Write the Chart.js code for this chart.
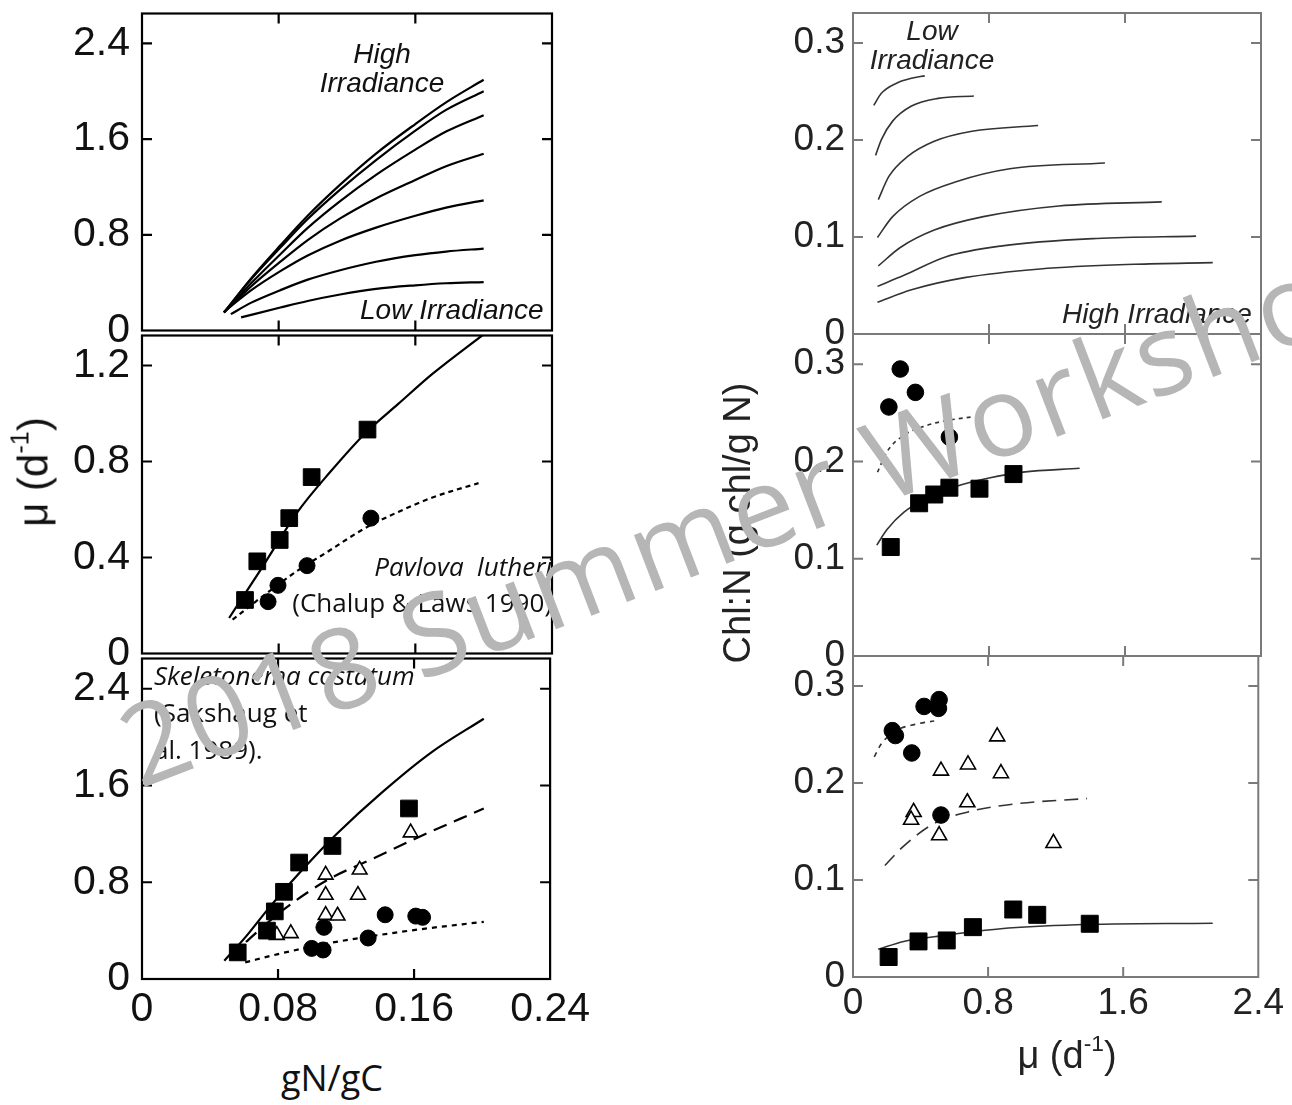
<!DOCTYPE html>
<html>
<head>
<meta charset="utf-8">
<script src="https://cdn.jsdelivr.net/npm/chart.js@4.4.1/dist/chart.umd.min.js"></script>
<style>
  body { margin: 0; background: #fff; }
  #page { position: relative; width: 1292px; height: 1105px; overflow: hidden; background: #fff; }
  canvas { position: absolute; }
  .txt { position: absolute; white-space: nowrap; color: #111; z-index: 5; }
  .arial { font-family: 'Liberation Sans', Arial, sans-serif; }
  .open { font-family: 'Open Sans', 'Noto Sans', sans-serif; }
  .sup { font-size: 0.6em; position: relative; top: -0.75em; }
  #wm { position: absolute; z-index: 10; white-space: nowrap; color: #b6b6b6;
        font: 112px/112px 'Open Sans', 'Noto Sans', sans-serif; letter-spacing: 3px;
        left: 140px; top: 690px; transform-origin: 0 100px; transform: rotate(-21deg); }
</style>
</head>
<body>
<div id="page">
  <canvas id="pIrrGrowth"></canvas>
  <canvas id="pPavGrowth"></canvas>
  <canvas id="pSkelGrowth"></canvas>
  <canvas id="pIrrChl"></canvas>
  <canvas id="pPavChl"></canvas>
  <canvas id="pSkelChl"></canvas>

  <div class="txt arial" style="left:382px; top:39px; transform:translateX(-50%); text-align:center; font:italic 28px/29px 'Liberation Sans', Arial;">High<br>Irradiance</div>
  <div class="txt arial" style="left:360px; top:295px; font:italic 28px/29px 'Liberation Sans', Arial;">Low Irradiance</div>
  <div class="txt arial" style="left:932px; top:16px; transform:translateX(-50%); text-align:center; font:italic 28px/29px 'Liberation Sans', Arial; color:#222;">Low<br>Irradiance</div>
  <div class="txt arial" style="left:1062px; top:299px; font:italic 28px/29px 'Liberation Sans', Arial; color:#222;">High Irradiance</div>

  <div class="txt open" style="right:740px; top:548px; text-align:right; font-size:26px; line-height:36px;"><i>Pavlova&nbsp;&nbsp;lutheri</i><br>(Chalup &amp; Laws 1990)</div>
  <div class="txt open" style="left:154px; top:657px; font-size:26px; line-height:37px;"><i>Skeletonema costatum</i><br>(Sakshaug et<br>al. 1989).</div>

  <div class="txt arial" style="left:36px; top:472px; font-size:42px; line-height:42px; transform:translate(-50%,-50%) rotate(-90deg);">&mu; (d<span class="sup">-1</span>)</div>
  <div class="txt arial" style="left:737px; top:523px; font-size:38px; line-height:38px; color:#222; transform:translate(-50%,-50%) rotate(-90deg);">Chl:N (g chl/g N)</div>
  <div class="txt open" style="left:332px; top:1060px; font-size:36px; line-height:36px; transform:translateX(-50%);">gN/gC</div>
  <div class="txt arial" style="left:1067px; top:1036px; font-size:38px; line-height:38px; color:#222; transform:translateX(-50%);">&mu; (d<span class="sup">-1</span>)</div>

  <div id="wm">2018 Summer Workshop</div>
</div>

<script>
// ── Tick values ────────────────────────────────────────
const gnTicks = [0, 0.08, 0.16, 0.24];
const gnTickLabels = ['0', '0.08', '0.16', '0.24'];
const muTicks = [0, 0.8, 1.6, 2.4];
const muTickLabels = ['0', '0.8', '1.6', '2.4'];
const muTicksPav = [0, 0.4, 0.8, 1.2];
const muTickLabelsPav = ['0', '0.4', '0.8', '1.2'];
const chlTicks = [0, 0.1, 0.2, 0.3];
const chlTickLabels = ['0', '0.1', '0.2', '0.3'];

// ── Growth vs N:C, irradiance curves (top left) ────────
const irrX = [0.048, 0.064, 0.081, 0.097, 0.116, 0.137, 0.16, 0.178, 0.2];
const irrY1 = [0.151, 0.438, 0.712, 0.959, 1.219, 1.479, 1.726, 1.907, 2.096];
const irrY2 = [0.151, 0.43, 0.693, 0.932, 1.178, 1.425, 1.671, 1.844, 2.0];
const irrY3 = [0.151, 0.397, 0.638, 0.858, 1.082, 1.301, 1.512, 1.663, 1.8];
const irrY4 = [0.151, 0.37, 0.575, 0.756, 0.937, 1.104, 1.258, 1.373, 1.477];
const irrY5 = [0.156, 0.337, 0.496, 0.627, 0.751, 0.86, 0.959, 1.027, 1.088];
const irrX6 = [0.052, 0.064, 0.081, 0.097, 0.116, 0.137, 0.16, 0.178, 0.2];
const irrY6 = [0.137, 0.233, 0.337, 0.425, 0.504, 0.575, 0.63, 0.66, 0.685];
const irrX7 = [0.058, 0.081, 0.097, 0.116, 0.137, 0.16, 0.178, 0.2];
const irrY7 = [0.11, 0.192, 0.247, 0.301, 0.348, 0.378, 0.395, 0.405];

// ── Pavlova lutheri, growth vs N:C (middle left) ───────
const pavSqX = [0.0603, 0.0675, 0.0806, 0.0862, 0.0993, 0.132];
const pavSqY = [0.223, 0.384, 0.473, 0.564, 0.735, 0.933];
const pavCiX = [0.0738, 0.0796, 0.0966, 0.134];
const pavCiY = [0.216, 0.284, 0.366, 0.564];
const pavFitSqX = [0.051, 0.07, 0.0914, 0.11, 0.131, 0.15, 0.17, 0.2];
const pavFitSqY = [0.148, 0.355, 0.593, 0.755, 0.92, 1.04, 1.165, 1.33];
const pavFitCiX = [0.053, 0.07, 0.09, 0.11, 0.13, 0.15, 0.17, 0.197];
const pavFitCiY = [0.141, 0.235, 0.34, 0.43, 0.52, 0.59, 0.65, 0.71];

// ── Skeletonema costatum, growth vs N:C (bottom left) ──
const skSqX = [0.0563, 0.0735, 0.0781, 0.0835, 0.0924, 0.112, 0.157];
const skSqY = [0.22, 0.40, 0.559, 0.721, 0.963, 1.10, 1.41];
const skTriX = [0.0793, 0.0875, 0.108, 0.108, 0.108, 0.115, 0.128, 0.127, 0.158];
const skTriY = [0.363, 0.377, 0.861, 0.694, 0.528, 0.523, 0.903, 0.694, 1.21];
const skCiX = [0.0998, 0.1065, 0.107, 0.133, 0.143, 0.161, 0.165];
const skCiY = [0.253, 0.24, 0.427, 0.339, 0.531, 0.52, 0.51];
const skFitSqX = [0.0484, 0.0607, 0.0741, 0.0875, 0.101, 0.1143, 0.141, 0.17, 0.201];
const skFitSqY = [0.151, 0.344, 0.578, 0.798, 1.005, 1.197, 1.541, 1.872, 2.152];
const skFitTriX = [0.0518, 0.063, 0.085, 0.11, 0.135, 0.16, 0.201];
const skFitTriY = [0.179, 0.33, 0.592, 0.826, 0.99, 1.156, 1.41];
const skFitCiX = [0.0607, 0.08, 0.1076, 0.133, 0.163, 0.201];
const skFitCiY = [0.138, 0.206, 0.29, 0.35, 0.41, 0.473];

// ── Chl:N vs growth, irradiance curves (top right) ─────
const chlC1 = [[0.122, 0.2357], [0.167, 0.2482], [0.256, 0.2586], [0.344, 0.2637], [0.422, 0.2662]];
const chlC2 = [[0.133, 0.1842], [0.167, 0.2005], [0.233, 0.2195], [0.344, 0.2351], [0.5, 0.243], [0.711, 0.2454]];
const chlC3 = [[0.149, 0.1386], [0.211, 0.1625], [0.322, 0.1832], [0.478, 0.1988], [0.7, 0.2091], [1.089, 0.215]];
const chlC4 = [[0.144, 0.0996], [0.233, 0.121], [0.389, 0.1417], [0.611, 0.1573], [0.922, 0.1704], [1.482, 0.1763]];
const chlC5 = [[0.149, 0.0702], [0.278, 0.0892], [0.478, 0.1072], [0.767, 0.121], [1.211, 0.132], [1.816, 0.1362]];
const chlC6 = [[0.144, 0.0491], [0.3, 0.0605], [0.544, 0.0795], [0.878, 0.0909], [1.433, 0.0985], [2.018, 0.1009]];
const chlC7 = [[0.144, 0.0328], [0.344, 0.0456], [0.656, 0.0581], [1.1, 0.0671], [1.656, 0.0719], [2.116, 0.0736]];

// ── Pavlova lutheri, Chl:N (middle right) ──────────────
const pavChlCiX = [0.211, 0.278, 0.367, 0.567];
const pavChlCiY = [0.256, 0.295, 0.271, 0.225];
const pavChlSqX = [0.222, 0.389, 0.478, 0.567, 0.744, 0.944];
const pavChlSqY = [0.112, 0.157, 0.166, 0.173, 0.172, 0.187];
const pavChlFitSq = [[0.14, 0.114], [0.2, 0.13], [0.3, 0.148], [0.45, 0.163], [0.6, 0.174], [0.8, 0.183], [1.0, 0.189], [1.333, 0.193]];
const pavChlFitCi = [[0.144, 0.189], [0.2, 0.21], [0.3, 0.227], [0.433, 0.237], [0.55, 0.242], [0.711, 0.246]];

// ── Skeletonema costatum, Chl:N (bottom right) ─────────
const skChlCiX = [0.233, 0.251, 0.348, 0.421, 0.51, 0.506, 0.521];
const skChlCiY = [0.254, 0.249, 0.231, 0.279, 0.286, 0.277, 0.167];
const skChlTriX = [0.854, 0.681, 0.521, 0.876, 0.677, 0.359, 0.344, 0.51, 1.187];
const skChlTriY = [0.248, 0.219, 0.2126, 0.21, 0.18, 0.170, 0.162, 0.146, 0.138];
const skChlSqX = [0.211, 0.388, 0.555, 0.71, 0.949, 1.091, 1.402];
const skChlSqY = [0.0206, 0.0367, 0.0377, 0.0514, 0.0696, 0.0641, 0.0549];
const skChlFitCi = [[0.126, 0.227], [0.166, 0.24], [0.255, 0.254], [0.366, 0.2605], [0.481, 0.264]];
const skChlFitTri = [[0.189, 0.115], [0.3, 0.135], [0.477, 0.158], [0.699, 0.171], [0.987, 0.179], [1.386, 0.184]];
const skChlFitSq = [[0.149, 0.0285], [0.3, 0.0367], [0.543, 0.0429], [0.876, 0.0497], [1.32, 0.0538], [2.13, 0.0555]];

// ── Helpers ────────────────────────────────────────────
const FONT = "'Liberation Sans', Arial, sans-serif";
const pts = (xs, ys) => xs.map((x, i) => ({ x, y: ys[i] }));
const pairs = arr => arr.map(([x, y]) => ({ x, y }));

function curve(data, color, width, dash) {
    return {
        data, showLine: true, pointRadius: 0, borderColor: color, borderWidth: width,
        borderDash: dash || [], fill: false, cubicInterpolationMode: 'monotone'
    };
}

function marks(data, style, radius, open) {
    return {
        data, showLine: false, pointStyle: style, pointRadius: radius,
        backgroundColor: open ? '#fff' : '#000', borderColor: '#000', borderWidth: open ? 1.6 : 1
    };
}

// frame with inward ticks on all four sides
const framePlugin = {
    id: 'frame',
    afterDatasetsDraw(chart, args, o) {
        const { ctx, chartArea: a, scales: { x, y } } = chart;
        ctx.save();
        ctx.strokeStyle = o.color;
        ctx.lineWidth = o.width;
        ctx.strokeRect(a.left, a.top, a.right - a.left, a.bottom - a.top);
        ctx.beginPath();
        o.xTicks.forEach(v => {
            const px = x.getPixelForValue(v);
            if (px <= a.left + 1 || px >= a.right - 1) return;
            ctx.moveTo(px, a.bottom); ctx.lineTo(px, a.bottom - o.len);
            ctx.moveTo(px, a.top); ctx.lineTo(px, a.top + o.len);
        });
        o.yTicks.forEach(v => {
            const py = y.getPixelForValue(v);
            if (py <= a.top + 1 || py >= a.bottom - 1) return;
            ctx.moveTo(a.left, py); ctx.lineTo(a.left + o.len, py);
            ctx.moveTo(a.right, py); ctx.lineTo(a.right - o.len, py);
        });
        ctx.stroke();
        ctx.restore();
    }
};

// ── Columns & panels ───────────────────────────────────
const cols = {
    left:  { cLeft: 0, cWidth: 600, axisW: 142, tickSize: 41, tickColor: '#111', yPad: 12, xPad: 10,
             frame: '#000', frameW: 2.2, xMax: 0.24, xTicks: gnTicks, xLabels: gnTickLabels },
    right: { cLeft: 760, cWidth: 532, axisW: 93, tickSize: 37, tickColor: '#222', yPad: 8, xPad: 8,
             frame: '#7a7a7a', frameW: 2, xMax: 2.4, xTicks: muTicks, xLabels: muTickLabels }
};

const LW = 2.2, RW = 1.6, RC = '#333';

const panels = [
    { id: 'pIrrGrowth', col: 'left', top: 11, bottom: 333, yMax: 2.65, yTicks: muTicks, yLabels: muTickLabels, showX: false,
      datasets: [
        curve(pts(irrX, irrY1), '#000', LW), curve(pts(irrX, irrY2), '#000', LW),
        curve(pts(irrX, irrY3), '#000', LW), curve(pts(irrX, irrY4), '#000', LW),
        curve(pts(irrX, irrY5), '#000', LW), curve(pts(irrX6, irrY6), '#000', LW),
        curve(pts(irrX7, irrY7), '#000', LW)
      ] },
    { id: 'pPavGrowth', col: 'left', top: 333, bottom: 656, yMax: 1.325, yTicks: muTicksPav, yLabels: muTickLabelsPav, showX: false,
      datasets: [
        marks(pts(pavSqX, pavSqY), 'rect', 11.8),
        marks(pts(pavCiX, pavCiY), 'circle', 8),
        curve(pts(pavFitSqX, pavFitSqY), '#000', LW),
        curve(pts(pavFitCiX, pavFitCiY), '#000', LW, [5, 4])
      ] },
    { id: 'pSkelGrowth', col: 'left', top: 656, bottom: 979, yMax: 2.65, yTicks: muTicks, yLabels: muTickLabels, showX: true,
      datasets: [
        marks(pts(skSqX, skSqY), 'rect', 11.8),
        marks(pts(skTriX, skTriY), 'triangle', 8.5, true),
        marks(pts(skCiX, skCiY), 'circle', 8),
        curve(pts(skFitSqX, skFitSqY), '#000', LW),
        curve(pts(skFitTriX, skFitTriY), '#000', LW, [14, 8]),
        curve(pts(skFitCiX, skFitCiY), '#000', LW, [5, 5])
      ] },
    { id: 'pIrrChl', col: 'right', top: 13, bottom: 334, yMax: 0.331, yTicks: chlTicks, yLabels: chlTickLabels, showX: false,
      datasets: [chlC1, chlC2, chlC3, chlC4, chlC5, chlC6, chlC7].map(c => curve(pairs(c), RC, RW)) },
    { id: 'pPavChl', col: 'right', top: 334, bottom: 656, yMax: 0.331, yTicks: chlTicks, yLabels: chlTickLabels, showX: false,
      datasets: [
        marks(pts(pavChlCiX, pavChlCiY), 'circle', 8.3),
        marks(pts(pavChlSqX, pavChlSqY), 'rect', 12),
        curve(pairs(pavChlFitSq), RC, RW),
        curve(pairs(pavChlFitCi), RC, RW, [4, 4])
      ] },
    { id: 'pSkelChl', col: 'right', top: 656, bottom: 977, yMax: 0.331, yTicks: chlTicks, yLabels: chlTickLabels, showX: true,
      datasets: [
        marks(pts(skChlCiX, skChlCiY), 'circle', 8.3),
        marks(pts(skChlTriX, skChlTriY), 'triangle', 8.7, true),
        marks(pts(skChlSqX, skChlSqY), 'rect', 12),
        curve(pairs(skChlFitCi), RC, RW, [5, 5]),
        curve(pairs(skChlFitTri), RC, RW, [14, 8]),
        curve(pairs(skChlFitSq), RC, RW)
      ] }
];

// ── Build charts ───────────────────────────────────────
panels.forEach(p => {
    const c = cols[p.col];
    const canvas = document.getElementById(p.id);
    const padT = 30, axisH = p.showX ? 60 : 0, padB = p.showX ? 0 : 30;
    const h = p.bottom - p.top + padT + axisH + padB;
    canvas.width = c.cWidth;
    canvas.height = h;
    canvas.style.left = c.cLeft + 'px';
    canvas.style.top = (p.top - padT) + 'px';
    canvas.style.width = c.cWidth + 'px';
    canvas.style.height = h + 'px';

    const tickFont = { family: FONT, size: c.tickSize, lineHeight: 1 };

    new Chart(canvas, {
        type: 'scatter',
        data: { datasets: p.datasets },
        options: {
            responsive: false,
            animation: false,
            events: [],
            layout: { padding: { top: padT, bottom: padB, left: 0, right: c.cLeft + c.cWidth - (p.col === 'left' ? 552 : 1261) } },
            plugins: {
                legend: { display: false },
                tooltip: { enabled: false },
                frame: { color: c.frame, width: c.frameW, len: 10, xTicks: c.xTicks, yTicks: p.yTicks }
            },
            scales: {
                x: {
                    type: 'linear', min: 0, max: c.xMax, display: p.showX,
                    afterBuildTicks: s => { s.ticks = c.xTicks.map(v => ({ value: v })); },
                    afterFit: s => { s.height = axisH; },
                    grid: { display: false, drawTicks: false }, border: { display: false },
                    ticks: { callback: (v, i) => c.xLabels[i], font: tickFont, color: c.tickColor,
                             padding: c.xPad, autoSkip: false, maxRotation: 0, minRotation: 0 }
                },
                y: {
                    type: 'linear', min: 0, max: p.yMax,
                    afterBuildTicks: s => { s.ticks = p.yTicks.map(v => ({ value: v })); },
                    afterFit: s => { s.width = c.axisW; },
                    grid: { display: false, drawTicks: false }, border: { display: false },
                    ticks: { callback: (v, i) => p.yLabels[i], font: tickFont, color: c.tickColor,
                             padding: c.yPad, autoSkip: false }
                }
            }
        },
        plugins: [framePlugin]
    });
});
</script>
</body>
</html>
